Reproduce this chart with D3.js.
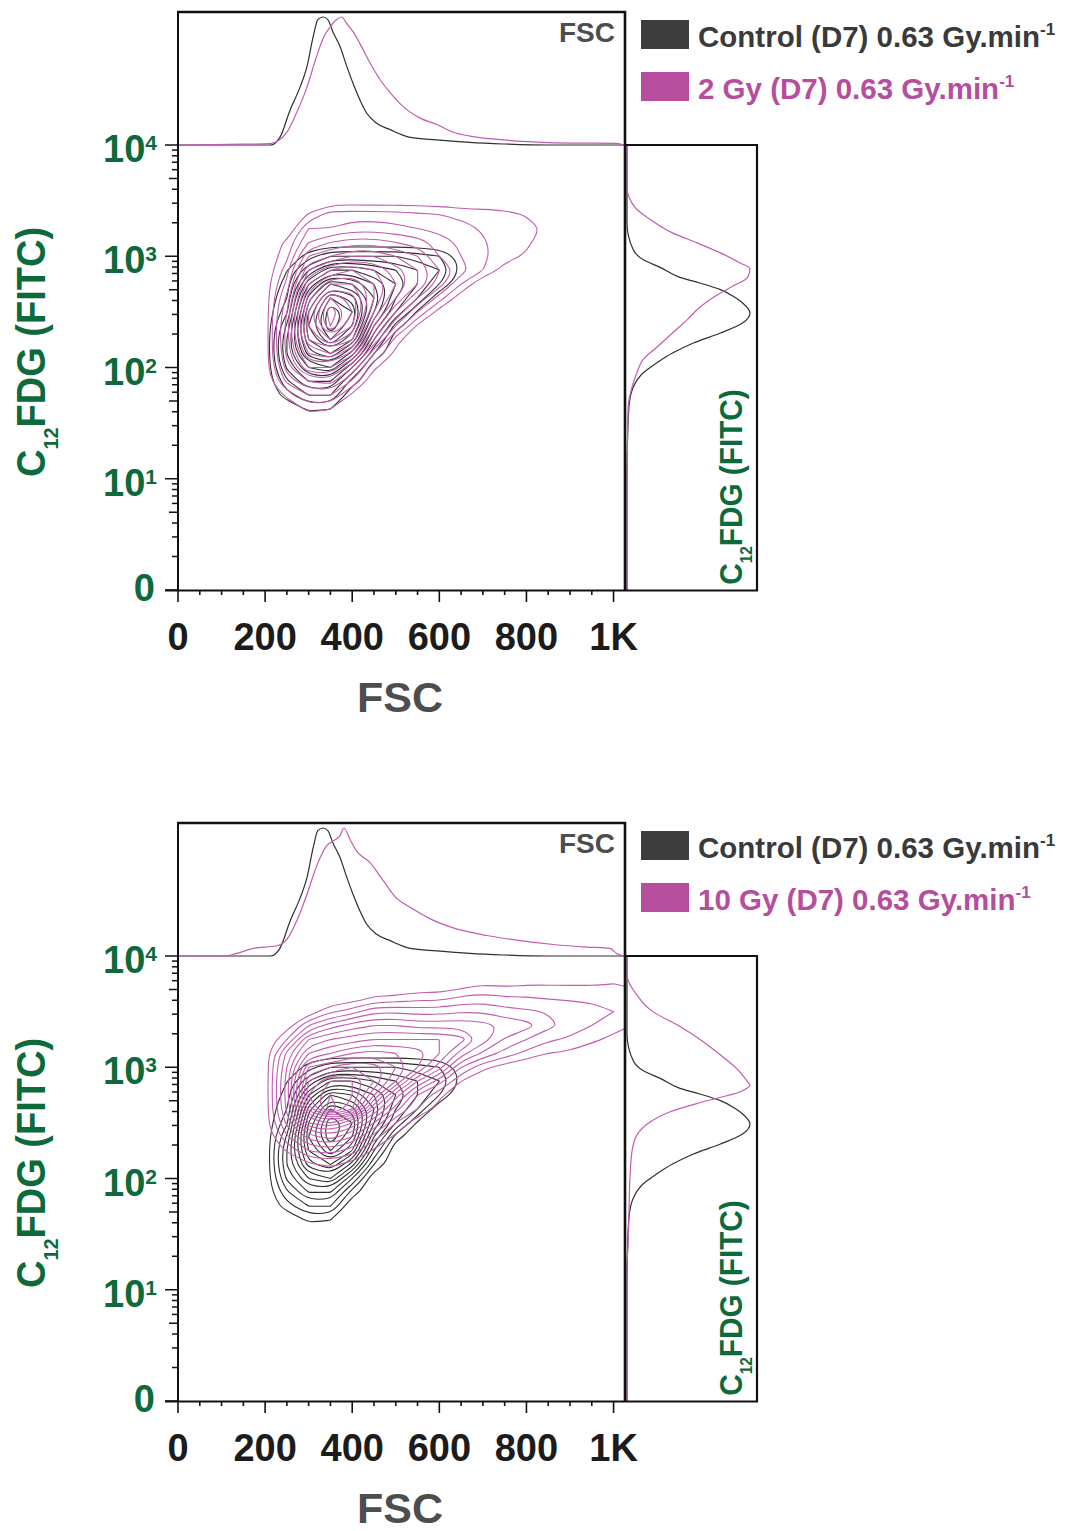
<!DOCTYPE html>
<html>
<head>
<meta charset="utf-8">
<script src="https://cdn.jsdelivr.net/npm/d3@7"></script>
<style>
  body { margin: 0; background: #fff; }
  text { font-family: "Liberation Sans", Arial, sans-serif; font-weight: bold; }
</style>
</head>
<body>
<div id="chart"></div>
<script>
// ---- axis ticks / labels ----
var fscTickValues = [0, 200, 400, 600, 800, 1000];
var fscTickLabels = ["0", "200", "400", "600", "800", "1K"];
var fitcTickValues = [1, 10, 100, 1000, 10000];
var fitcTickExps = ["", "1", "2", "3", "4"];   // "" is the plain "0" label

var legendCtrl = "Control (D7) 0.63 Gy.min";
var legendDose = ["2 Gy (D7) 0.63 Gy.min", "10 Gy (D7) 0.63 Gy.min"];

// ---- FSC histograms (top strip): [FSC channel, % of peak] ----
var fscCtrl = [[0,0],[212,0],[234,6],[257,27],[280,45],[296,61],[310,84],[321,98],[333,100],[344,98],[356,88],[372,77],[388,61],[402,48],[418,35],[433,25],[456,17],[487,12],[533,6],[594,4],[670,2],[747,0.8],[850,0],[1024,0]];
var fsc2Gy = [[0,0],[119,0.5],[211,1],[250,10],[272,25],[296,45],[318,69],[334,84],[349,92],[364,98],[376,100],[387,95],[403,88],[418,79],[441,64],[464,51],[487,41],[517,30],[556,21],[594,16],[632,10],[670,7],[747,4],[824,2.3],[900,1.5],[1007,1.3],[1024,0]];
var fsc10Gy = [[0,0],[110,0],[135,2],[173,6],[227,8],[250,13],[272,27],[296,48],[318,70],[341,86],[357,90],[372,94],[381,100],[395,91],[410,82],[441,73],[471,59],[502,45],[533,38],[579,29],[632,22],[709,16],[785,12],[862,9],[938,7],[992,6],[1007,2],[1024,0]];

// ---- FITC histograms (right strip): [log10 FITC, % of peak] ----
var fitcCtrl = [[4,0],[3.30,0],[3.06,5],[2.97,13],[2.90,27],[2.81,43],[2.76,59],[2.70,76],[2.63,88],[2.58,94],[2.49,100],[2.40,94],[2.31,76],[2.22,54],[2.13,37],[2.04,24],[1.95,13],[1.82,5],[1.65,1.6],[1.35,0.4],[1.05,0],[0,0]];
var fitc2Gy = [[4,0],[3.62,0],[3.44,6.5],[3.33,19],[3.21,37],[3.12,57],[3.03,76],[2.94,92],[2.89,100],[2.81,98],[2.72,84],[2.63,70],[2.54,59],[2.43,49],[2.31,37],[2.18,24],[2.07,13],[1.95,8],[1.82,4],[1.65,1],[1.35,0.4],[0.81,0],[0,0]];
var fitc10Gy = [[4,0],[3.83,0],[3.65,8],[3.50,21],[3.38,41],[3.23,62],[3.11,76],[2.99,89],[2.87,98],[2.84,100],[2.78,92],[2.69,62],[2.60,35],[2.51,19],[2.39,8],[2.24,4],[2.00,2.4],[1.70,1.6],[1.40,0.8],[1.20,0],[0,0]];

// ---- contour density grids ----
// columns: FSC 150..1050 step 50, rows: log10 FITC 1.25.. step 0.125 (bottom row first)
// value = number of contour lines enclosing that point; short rows are zero-padded
var gridFsc0 = 150, gridFscStep = 50, gridCols = 19;
var gridLog0 = 1.25, gridLogStep = 0.125, gridRows = 23;

var gridCtrl = [
  [], [], [],
  [0,0,0,1.2,1],
  [0,0,1.5,3,3],
  [0,0,2.8,5,5,1.5],
  [0,0,4.2,7,8,4],
  [0,0,5,9.5,11,7.5,2],
  [0,0,5,11,14,11,4],
  [0,0,4.2,12,16,13,6,1.5],
  [0,0,2.8,11,16,14,8,4,0.8],
  [0,0,2,9.5,14,12.5,9,5,3],
  [0,0,1.4,7,11,10,8,6,4,2],
  [0,0,0.96,4,7,7,6,5,4,3,0.8],
  [0,0,0,1.5,3,3,3,3,2.5,2,0.5]
];
var grid2Gy = [
  [], [], [],
  [0,0,0,1.3,1.0],
  [0,0,1.2,3,3,0.7],
  [0,0,3.3,5,5.5,2.8],
  [0,0.3,4.5,8,8,5,1.2],
  [0,0.3,5.3,10,11,8.5,3,0.7],
  [0,0.3,5.5,12,14,12,6,1.4],
  [0,0.3,5.5,13,17,14,8,4,0.8],
  [0,0.3,5,13,18,15,10,6,3,0.5],
  [0,0.3,4.3,11.5,16,14.5,11,8,5,2.5,0.3],
  [0,0.3,3.3,10,13,13,11,9,7,4.5,2],
  [0,0,2.6,8,10,11,10,8.5,7,5,3.5,2,0.5],
  [0,0,1.7,6,7,8,8,7,6,4,3,2.2,1.5,0.8],
  [0,0,1.25,4,5,5.5,5.5,5,4.5,3.5,2.8,2.1,1.6,1.3],
  [0,0,0,3,3,3.5,3.5,3.3,3,2.7,2.3,1.9,1.6,1.4,0.8],
  [0,0,0,1.1,2.5,2.5,2.5,2.4,2.2,2,1.8,1.6,1.4,0.9],
  [0,0,0,0,0.3,0.3,0.3,0.3,0.3,0.3]
];
var grid10Gy = [
  [], [], [], [], [], [], [],
  [0,0,0,0.8,1.2,0.6],
  [0,0,1.1,3,3.5,2.5,0.8],
  [0,0,2.8,5.5,6.5,5,2.5,0.7],
  [0,0.3,4.3,9,10,8,5,2,0.3],
  [0,0.3,5.3,12.5,17,14,8,4.5,2,0.5],
  [0,0.3,5.5,14,16,15,11,6.5,3,1.3],
  [0,0.3,5.5,13,15,15,13,10,6,3.5,1],
  [0,0.3,5,11,12,13,12.5,11,9,6.5,3,1.3,0.5],
  [0,0.3,4.3,8,9,10,10.5,10,9.6,8,5.5,3.8,2.6,1.7,1.0,0.8,0.4],
  [0,0,2,6,7,7.5,8,8,8,8,7.4,5.5,3.9,3.0,2.2,1.8,1.2,0.75,0.2],
  [0,0,0.4,3,4.5,5.5,6,6,5.6,5.6,5.65,5.4,4.8,4.4,3.3,2.65,2.0,1.4,0.9],
  [0,0,0,0.3,1.8,2.5,3.8,3.8,3.6,3.6,3.9,3.9,3.4,3.2,2.9,2.7,2.5,2.0,1.4],
  [0,0,0,0,0,0.3,1.1,1.2,1.6,1.6,2.15,2.4,2.1,2.05,1.9,1.8,1.7,1.6,1.4],
  [0,0,0,0,0,0,0,0,0,0,0.4,0.9,0.7,0.9,0.9,0.9,0.9,1.0,0.8],
  [0,0,0,0,0,0,0,0,0,0,0,0,0,0,0,0,0.15,0.35,0.2]
];
var levelsCtrl = [1,2,3,4,5,6,7,8,9,10,11,12,13,14,15];
var levels2Gy = [1,2,3,4,5,6,7,8,9,10,11,12,13,14,15,16,17];
var levels10Gy = [1,2,3,4,5,6,7,8,9,10,11,12,13,14,15,16];

// ---- colours ----
var ctrlLine = "#2f2f2f", ctrlSwatch = "#3d3d3d", ctrlText = "#3a3a3a";
var doseLine = "#c25cb0", doseSwatch = "#b84f9e", doseText = "#b54e9d";
var green = "#0d6a3a", fscGrey = "#4d4d4d", tickBlack = "#1c1c1c";

var panels = [
  { dy: 0,   grid: grid2Gy,  levels: levels2Gy,  fsc: fsc2Gy,  fitc: fitc2Gy,  label: legendDose[0] },
  { dy: 811, grid: grid10Gy, levels: levels10Gy, fsc: fsc10Gy, fitc: fitc10Gy, label: legendDose[1] }
];

var svg = d3.select("#chart").append("svg")
    .attr("width", 1066)
    .attr("height", 1531);

// plot box (panel coordinates)
var pL = 178, pR = 625, pT = 145, pB = 590, histTop = 12, sideR = 757;

var x = d3.scaleLinear().domain([0, 1024]).range([178, 624]);
var y = d3.scaleLog().domain([1, 10000]).range([590, 145]);
var hy = d3.scaleLinear().domain([0, 100]).range([145, 17]);
var hx = d3.scaleLinear().domain([0, 100]).range([627, 750]);

function flatGrid(grid) {
  var out = [];
  for (var r = 0; r < gridRows; r++) {
    var row = grid[r] || [];
    for (var c = 0; c < gridCols; c++) out.push(row[c] || 0);
  }
  return out;
}

function drawContours(g, grid, levels, color) {
  var cs = d3.contours().size([gridCols, gridRows]).thresholds(levels)(flatGrid(grid));
  var line = d3.line()
      .curve(d3.curveBasisClosed)
      .x(function(p) { return x(gridFsc0 + (p[0] - 0.5) * gridFscStep); })
      .y(function(p) { return y(Math.pow(10, gridLog0 + (p[1] - 0.5) * gridLogStep)); });
  cs.forEach(function(c) {
    c.coordinates.forEach(function(poly) {
      poly.forEach(function(ring) {
        g.append("path")
            .attr("d", line(ring.slice(0, -1)))
            .attr("fill", "none")
            .attr("stroke", color)
            .attr("stroke-width", 1.1);
      });
    });
  });
}

var fscLine = d3.line().curve(d3.curveMonotoneX)
    .x(function(d) { return x(d[0]); })
    .y(function(d) { return hy(d[1]); });
var fitcLine = d3.line().curve(d3.curveMonotoneY)
    .x(function(d) { return hx(d[1]); })
    .y(function(d) { return y(Math.pow(10, d[0])); });

function drawPanel(p, i) {
  var g = svg.append("g").attr("transform", "translate(0," + p.dy + ")");

  g.append("clipPath").attr("id", "clip" + i)
    .append("rect").attr("x", pL).attr("y", pT).attr("width", pR - pL).attr("height", pB - pT);

  // contour plot
  var cg = g.append("g").attr("clip-path", "url(#clip" + i + ")");
  drawContours(cg, gridCtrl, levelsCtrl, ctrlLine);
  drawContours(cg, p.grid, p.levels, doseLine);

  // top FSC histogram
  g.append("path").datum(fscCtrl).attr("d", fscLine)
      .attr("fill", "none").attr("stroke", ctrlLine).attr("stroke-width", 1.2);
  g.append("path").datum(p.fsc).attr("d", fscLine)
      .attr("fill", "none").attr("stroke", doseLine).attr("stroke-width", 1.2);

  // right FITC histogram
  g.append("path").datum(fitcCtrl).attr("d", fitcLine)
      .attr("fill", "none").attr("stroke", ctrlLine).attr("stroke-width", 1.2);
  g.append("path").datum(p.fitc).attr("d", fitcLine)
      .attr("fill", "none").attr("stroke", doseLine).attr("stroke-width", 1.2);

  // frames
  function ln(x1, y1, x2, y2, w) {
    g.append("line").attr("x1", x1).attr("y1", y1).attr("x2", x2).attr("y2", y2)
        .attr("stroke", "#111").attr("stroke-width", w);
  }
  ln(pL, histTop, pL, pB, 2);
  ln(pL - 1, histTop, pR + 1, histTop, 2.5);
  ln(pR, histTop - 1, pR, pB + 1, 2.6);
  ln(pR, pT, sideR + 1, pT, 2.2);
  ln(sideR, pT, sideR, pB + 1, 2.2);
  ln(165, pB + 0.5, sideR + 1, pB + 0.5, 2);

  // x ticks
  g.selectAll(".xminor").data(x.ticks(20)).enter().append("line")
      .attr("x1", function(d) { return x(d); }).attr("x2", function(d) { return x(d); })
      .attr("y1", pB).attr("y2", function(d) { return d % 200 === 0 ? pB + 12 : pB + 5; })
      .attr("stroke", "#111").attr("stroke-width", 1.6);

  g.selectAll(".xlab").data(fscTickValues).enter().append("text")
      .attr("x", function(d) { return x(d); })
      .attr("y", 650)
      .attr("text-anchor", "middle")
      .attr("font-size", 38)
      .attr("fill", tickBlack)
      .text(function(d, k) { return fscTickLabels[k]; });

  // y ticks (log: decades long, fives medium, others short)
  g.selectAll(".ytick").data(y.ticks()).enter().append("line")
      .attr("y1", function(d) { return y(d); }).attr("y2", function(d) { return y(d); })
      .attr("x1", pL)
      .attr("x2", function(d) {
        var lg = Math.log10(d);
        if (Math.abs(lg - Math.round(lg)) < 1e-9) return pL - 13;
        var lead = Math.round(d / Math.pow(10, Math.floor(lg)));
        return lead === 5 ? pL - 9 : pL - 6;
      })
      .attr("stroke", "#111").attr("stroke-width", 1.5);

  fitcTickValues.forEach(function(v, k) {
    var t = g.append("text")
        .attr("x", fitcTickExps[k] ? 157 : 155)
        .attr("y", y(v) + (fitcTickExps[k] ? 17 : 11))
        .attr("text-anchor", "end")
        .attr("fill", green);
    if (!fitcTickExps[k]) {
      t.attr("font-size", 38).text("0");
    } else {
      t.append("tspan").attr("font-size", 38).text("10");
      t.append("tspan").attr("font-size", 21).attr("dy", -12).text(fitcTickExps[k]);
    }
  });

  // axis titles
  g.append("text").attr("x", 400).attr("y", 712).attr("text-anchor", "middle")
      .attr("font-size", 43).attr("fill", fscGrey).text("FSC");

  var yt = g.append("text")
      .attr("transform", "translate(45,352) rotate(-90) scale(0.95,1)")
      .attr("text-anchor", "middle").attr("fill", green);
  yt.append("tspan").attr("font-size", 40).text("C");
  yt.append("tspan").attr("font-size", 21).attr("dy", 13).text("12");
  yt.append("tspan").attr("font-size", 40).attr("dy", -13).text("FDG (FITC)");

  var rt = g.append("text")
      .attr("transform", "translate(742,487) rotate(-90) scale(0.96,1)")
      .attr("text-anchor", "middle").attr("fill", green);
  rt.append("tspan").attr("font-size", 31).text("C");
  rt.append("tspan").attr("font-size", 16).attr("dy", 10).text("12");
  rt.append("tspan").attr("font-size", 31).attr("dy", -10).text("FDG (FITC)");

  g.append("text").attr("x", 615).attr("y", 42).attr("text-anchor", "end")
      .attr("font-size", 28).attr("fill", fscGrey).text("FSC");

  // legend
  var legend = [
    { name: legendCtrl, swatch: ctrlSwatch, color: ctrlText },
    { name: p.label, swatch: doseSwatch, color: doseText }
  ];
  legend.forEach(function(l, k) {
    g.append("rect").attr("x", 641).attr("y", 20 + k * 52).attr("width", 48).attr("height", 29)
        .attr("fill", l.swatch);
    var t = g.append("text").attr("x", 698).attr("y", 47 + k * 52).attr("fill", l.color);
    t.append("tspan").attr("font-size", 29.5).text(l.name);
    t.append("tspan").attr("font-size", 17).attr("dy", -12).text("-1");
  });
}

panels.forEach(drawPanel);
</script>
</body>
</html>
